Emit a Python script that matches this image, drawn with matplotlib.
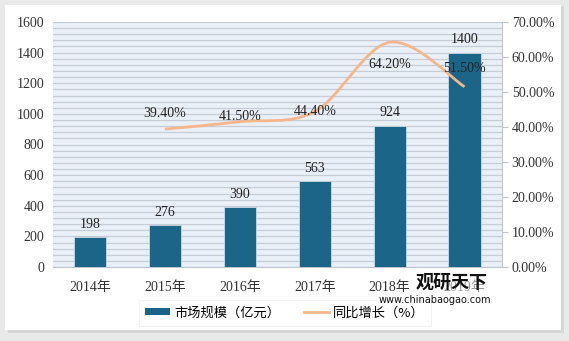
import numpy as np
import matplotlib
matplotlib.use("Agg")
import matplotlib.pyplot as plt
from matplotlib.path import Path
from matplotlib.patches import PathPatch, Rectangle
from matplotlib.lines import Line2D
from matplotlib.patches import Patch

plt.rcParams['font.family'] = ['Liberation Serif', 'Noto Sans CJK SC', 'DejaVu Sans']

years = ['2014年', '2015年', '2016年', '2017年', '2018年', '2019年']
market = [198, 276, 390, 563, 924, 1400]
growth_years = [1, 2, 3, 4, 5]
growth = [39.4, 41.5, 44.4, 64.2, 51.5]
growth_labels = ['39.40%', '41.50%', '44.40%', '64.20%', '51.50%']

bar_color = '#1b6588'
line_color = '#f6b68b'

fig = plt.figure(figsize=(5.69, 3.41), dpi=100)
fig.patch.set_facecolor('#e9e9e9')
# white panel with shadow
fig.add_artist(Rectangle((8 / 569, 1 - 333 / 341), 556 / 569, 327 / 341,
                         transform=fig.transFigure, facecolor='#d6d6d6',
                         edgecolor='none', zorder=-10))
fig.add_artist(Rectangle((5 / 569, 1 - 330 / 341), 556 / 569, 325 / 341,
                         transform=fig.transFigure, facecolor='white',
                         edgecolor='none', zorder=-9))

ax = fig.add_axes([52.6 / 569, 1 - 267 / 341, 449.4 / 569, 245 / 341])
ax.set_facecolor('#eaf0f7')
x = np.arange(len(years))
bars = ax.bar(x, market, width=0.43, color=bar_color, zorder=3,
              edgecolor='#cfd8e0', linewidth=0.6)
for xi, v in zip(x, market):
    ax.text(xi, v + 40, str(v), ha='center', va='bottom', fontsize=10,
            color='#222222', zorder=5)

ax.set_xlim(-0.5, len(years) - 0.5)
ax.set_ylim(0, 1600)
ax.set_yticks(range(0, 1601, 200))
ax.set_yticks(range(0, 1601, 40), minor=True)
ax.yaxis.grid(True, which='both', color='#c6cdd6', linewidth=0.9, zorder=0)
ax.set_axisbelow(True)
ax.set_xticks(x)
ax.set_xticklabels(years)
ax.tick_params(axis='y', which='both', length=0, labelsize=10, colors='#333333', pad=6)
ax.tick_params(axis='x', length=0, labelsize=10, colors='#333333', pad=10)
for s in ['top', 'right', 'left']:
    ax.spines[s].set_visible(False)
ax.spines['bottom'].set_color('#bfc6cf')

ax2 = ax.twinx()
ax2.set_ylim(0, 70)
ax2.set_yticks(range(0, 71, 10))
ax2.set_yticklabels(['%.2f%%' % t for t in range(0, 71, 10)])
ax2.tick_params(axis='y', direction='out', length=4, color='#bfc6cf',
                labelsize=10, colors='#333333', pad=3)
for s in ['top', 'left', 'bottom']:
    ax2.spines[s].set_visible(False)
ax2.spines['right'].set_color('#bfc6cf')

# smoothed line (bezier through the data points)
pts = list(zip(growth_years, growth))
verts = [pts[0]]
codes = [Path.MOVETO]
for i in range(len(pts) - 1):
    p0 = pts[i - 1] if i > 0 else pts[i]
    p1 = pts[i]
    p2 = pts[i + 1]
    p3 = pts[i + 2] if i + 2 < len(pts) else pts[i + 1]
    c1 = (p1[0] + (p2[0] - p0[0]) / 6, p1[1] + (p2[1] - p0[1]) / 6)
    c2 = (p2[0] - (p3[0] - p1[0]) / 6, p2[1] - (p3[1] - p1[1]) / 6)
    verts += [c1, c2, p2]
    codes += [Path.CURVE4] * 3
ax2.add_patch(PathPatch(Path(verts, codes), facecolor='none',
                        edgecolor=line_color, linewidth=2, zorder=4))

label_off = [4.5, 1.5, 0.0, -6.4, 5.3]
for xi, v, lab, off in zip(growth_years, growth, growth_labels, label_off):
    ax2.text(xi, v + off, lab, ha='center', va='center', fontsize=10,
             color='#222222', zorder=6)

# legend
handles = [Patch(facecolor=bar_color, edgecolor='none'),
           Line2D([0], [0], color=line_color, linewidth=2)]
leg = fig.legend(handles, ['市场规模（亿元）', '同比增长（%）'], ncol=2,
                 loc='center', bbox_to_anchor=(285 / 569, 1 - 313 / 341),
                 frameon=True, fancybox=False, shadow=False,
                 handlelength=1.9, handleheight=0.45, handletextpad=0.3,
                 columnspacing=1.8, borderpad=0.5,
                 prop={'family': ['Noto Sans CJK SC'], 'size': 9.5})
leg.get_frame().set_edgecolor('#eeeeee')
leg.get_frame().set_linewidth(0.8)

# watermark
fig.text(452 / 569, 1 - 282 / 341, '观研天下', ha='center', va='center',
         fontsize=13, fontweight='bold', color='#111111',
         family=['Noto Sans CJK SC'], zorder=10,
         bbox=dict(facecolor='white', edgecolor='none', alpha=0.5, pad=0.5))
fig.text(435 / 569, 1 - 300 / 341, 'www.chinabaogao.com', ha='center',
         va='center', fontsize=7, color='#111111', family=['DejaVu Sans'],
         zorder=10)

fig.savefig('out.png', dpi=100, facecolor=fig.get_facecolor())
